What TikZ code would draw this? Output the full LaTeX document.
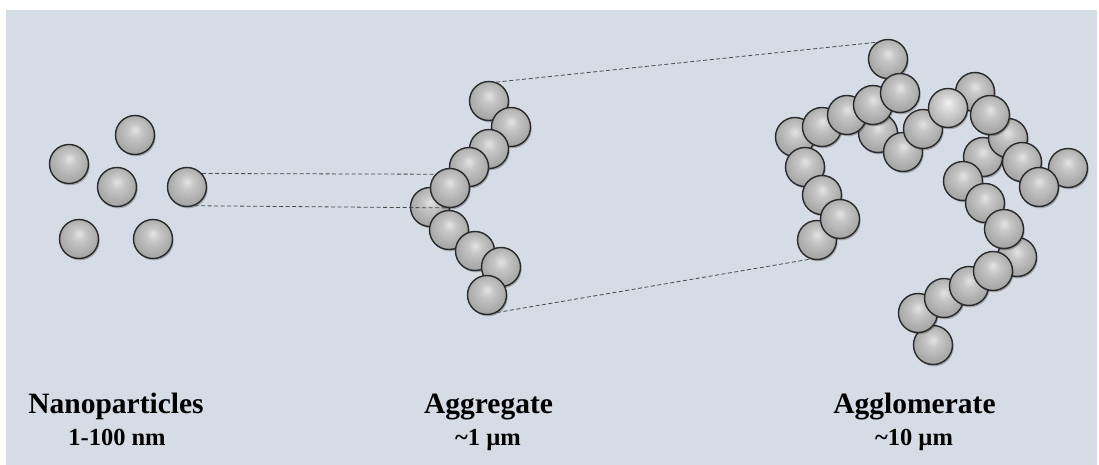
\documentclass[tikz,border=0pt]{standalone}
\usepackage{fontspec}
\setmainfont{Liberation Serif}
\usetikzlibrary{shadows}

\definecolor{panel}{HTML}{D6DCE5}
\definecolor{beadline}{HTML}{2A2A2A}
\definecolor{beadhi}{HTML}{E4E4E4}
\definecolor{beadmid}{HTML}{C6C6C6}
\definecolor{beadlow}{HTML}{A9A9A9}
\definecolor{beadhiL}{HTML}{F3F3F3}
\definecolor{beadmidL}{HTML}{D8D8D8}
\definecolor{beadlowL}{HTML}{B6B6B6}
\definecolor{linkgray}{HTML}{4A4A4A}

% particle shading: bright spot near the top, darker towards the bottom rim
\pgfdeclareradialshading{bead}{\pgfpoint{0bp}{7bp}}{%
  color(0bp)=(beadhi); color(9bp)=(beadmid); color(24bp)=(beadlow);
  color(32bp)=(beadlow); color(50bp)=(beadlow)}
\pgfdeclareradialshading{beadlight}{\pgfpoint{0bp}{7bp}}{%
  color(0bp)=(beadhiL); color(9bp)=(beadmidL); color(24bp)=(beadlowL);
  color(32bp)=(beadlowL); color(50bp)=(beadlowL)}

\begin{document}
\begin{tikzpicture}[x=1pt,y=-1pt,
  bead/.style={circle, minimum size=39pt, inner sep=0pt, draw=beadline,
    line width=1.4pt, shading=bead,
    drop shadow={shadow xshift=1.2pt, shadow yshift=-1.8pt, fill=black, opacity=0.25}},
  beadL/.style={bead, shading=beadlight},
  link/.style={draw=linkgray, line width=0.8pt, dash pattern=on 4pt off 2.5pt},
  title/.style={anchor=base, font=\bfseries\fontsize{29.5}{32}\selectfont, inner sep=0pt},
  size/.style={anchor=base, font=\bfseries\fontsize{24.5}{27}\selectfont, inner sep=0pt}]

\useasboundingbox (0,0) rectangle (1099,465);
\fill[white] (0,0) rectangle (1099,465);
\fill[panel] (6,10) rectangle (1097,465);

% single nanoparticles
\node[bead] (n1) at (135,135) {};
\node[bead] (n2) at (69,164) {};
\node[bead] (n3) at (117,187) {};
\node[bead] (n4) at (187,187) {};
\node[bead] (n5) at (79,239) {};
\node[bead] (n6) at (153,239) {};

% aggregate chain
\node[bead] (g5) at (430,207) {};
\node[bead] (g1) at (489,101) {};
\node[bead] (g2) at (511,127) {};
\node[bead] (g3) at (489,149) {};
\node[bead] (g4) at (469,167) {};
\node[bead] (g6) at (450,188) {};
\node[bead] (g7) at (449,230) {};
\node[bead] (g8) at (475,251) {};
\node[bead] (g9) at (501,267) {};
\node[bead] (g10) at (487,295) {};

% agglomerate (back particles first)
\node[bead] (ao) at (975,92) {};
\node[bead] (ar) at (983,157) {};
\node[bead] (ay) at (1017,257) {};
\node[bead] (ak) at (878,133) {};
\node[bead] (af) at (795,137) {};
\node[bead] (aa) at (888,59) {};
\node[bead] (ae) at (822,127) {};
\node[bead] (ad) at (847,115) {};
\node[bead] (ac) at (873,105) {};
\node[bead] (ab) at (900,93) {};
\node[bead] (al) at (903,152) {};
\node[bead] (am) at (923,129) {};
\node[beadL] (an) at (948,108) {};
\node[bead] (aq) at (1008,138) {};
\node[bead] (ap) at (990,115) {};
\node[bead] (as) at (1022,162) {};
\node[bead] (at) at (1068,168) {};
\node[bead] (au) at (1039,187) {};
\node[bead] (av) at (963,181) {};
\node[bead] (aw) at (985,203) {};
\node[bead] (add) at (933,345) {};
\node[bead] (acc) at (918,313) {};
\node[bead] (abb) at (944,298) {};
\node[bead] (aaa) at (969,286) {};
\node[bead] (ax) at (1004,229) {};
\node[bead] (az) at (993,271) {};
\node[bead] (ag) at (805,167) {};
\node[bead] (ah) at (822,195) {};
\node[bead] (aj) at (817,240) {};
\node[bead] (ai) at (840,219) {};

% dashed magnification guides
\draw[link] (n4.42) -- (g6.137);
\draw[link] (n4.-68) -- (g6.-100);
\draw[link] (g1.69) -- (aa.124);
\draw[link] (g10.-60) -- (aj.-109);

% captions
\node[title] (t1) at (116,413) {Nanoparticles};
\node[size] (s1) at (117,445.5) {1-100 nm};
\node[title] (t2) at (488.5,413) {Aggregate};
\node[size] (s2) at (488,445.5) {\textasciitilde1 µm};
\node[title] (t3) at (914.5,413) {Agglomerate};
\node[size] (s3) at (914,445.5) {\textasciitilde10 µm};
\end{tikzpicture}
\end{document}
